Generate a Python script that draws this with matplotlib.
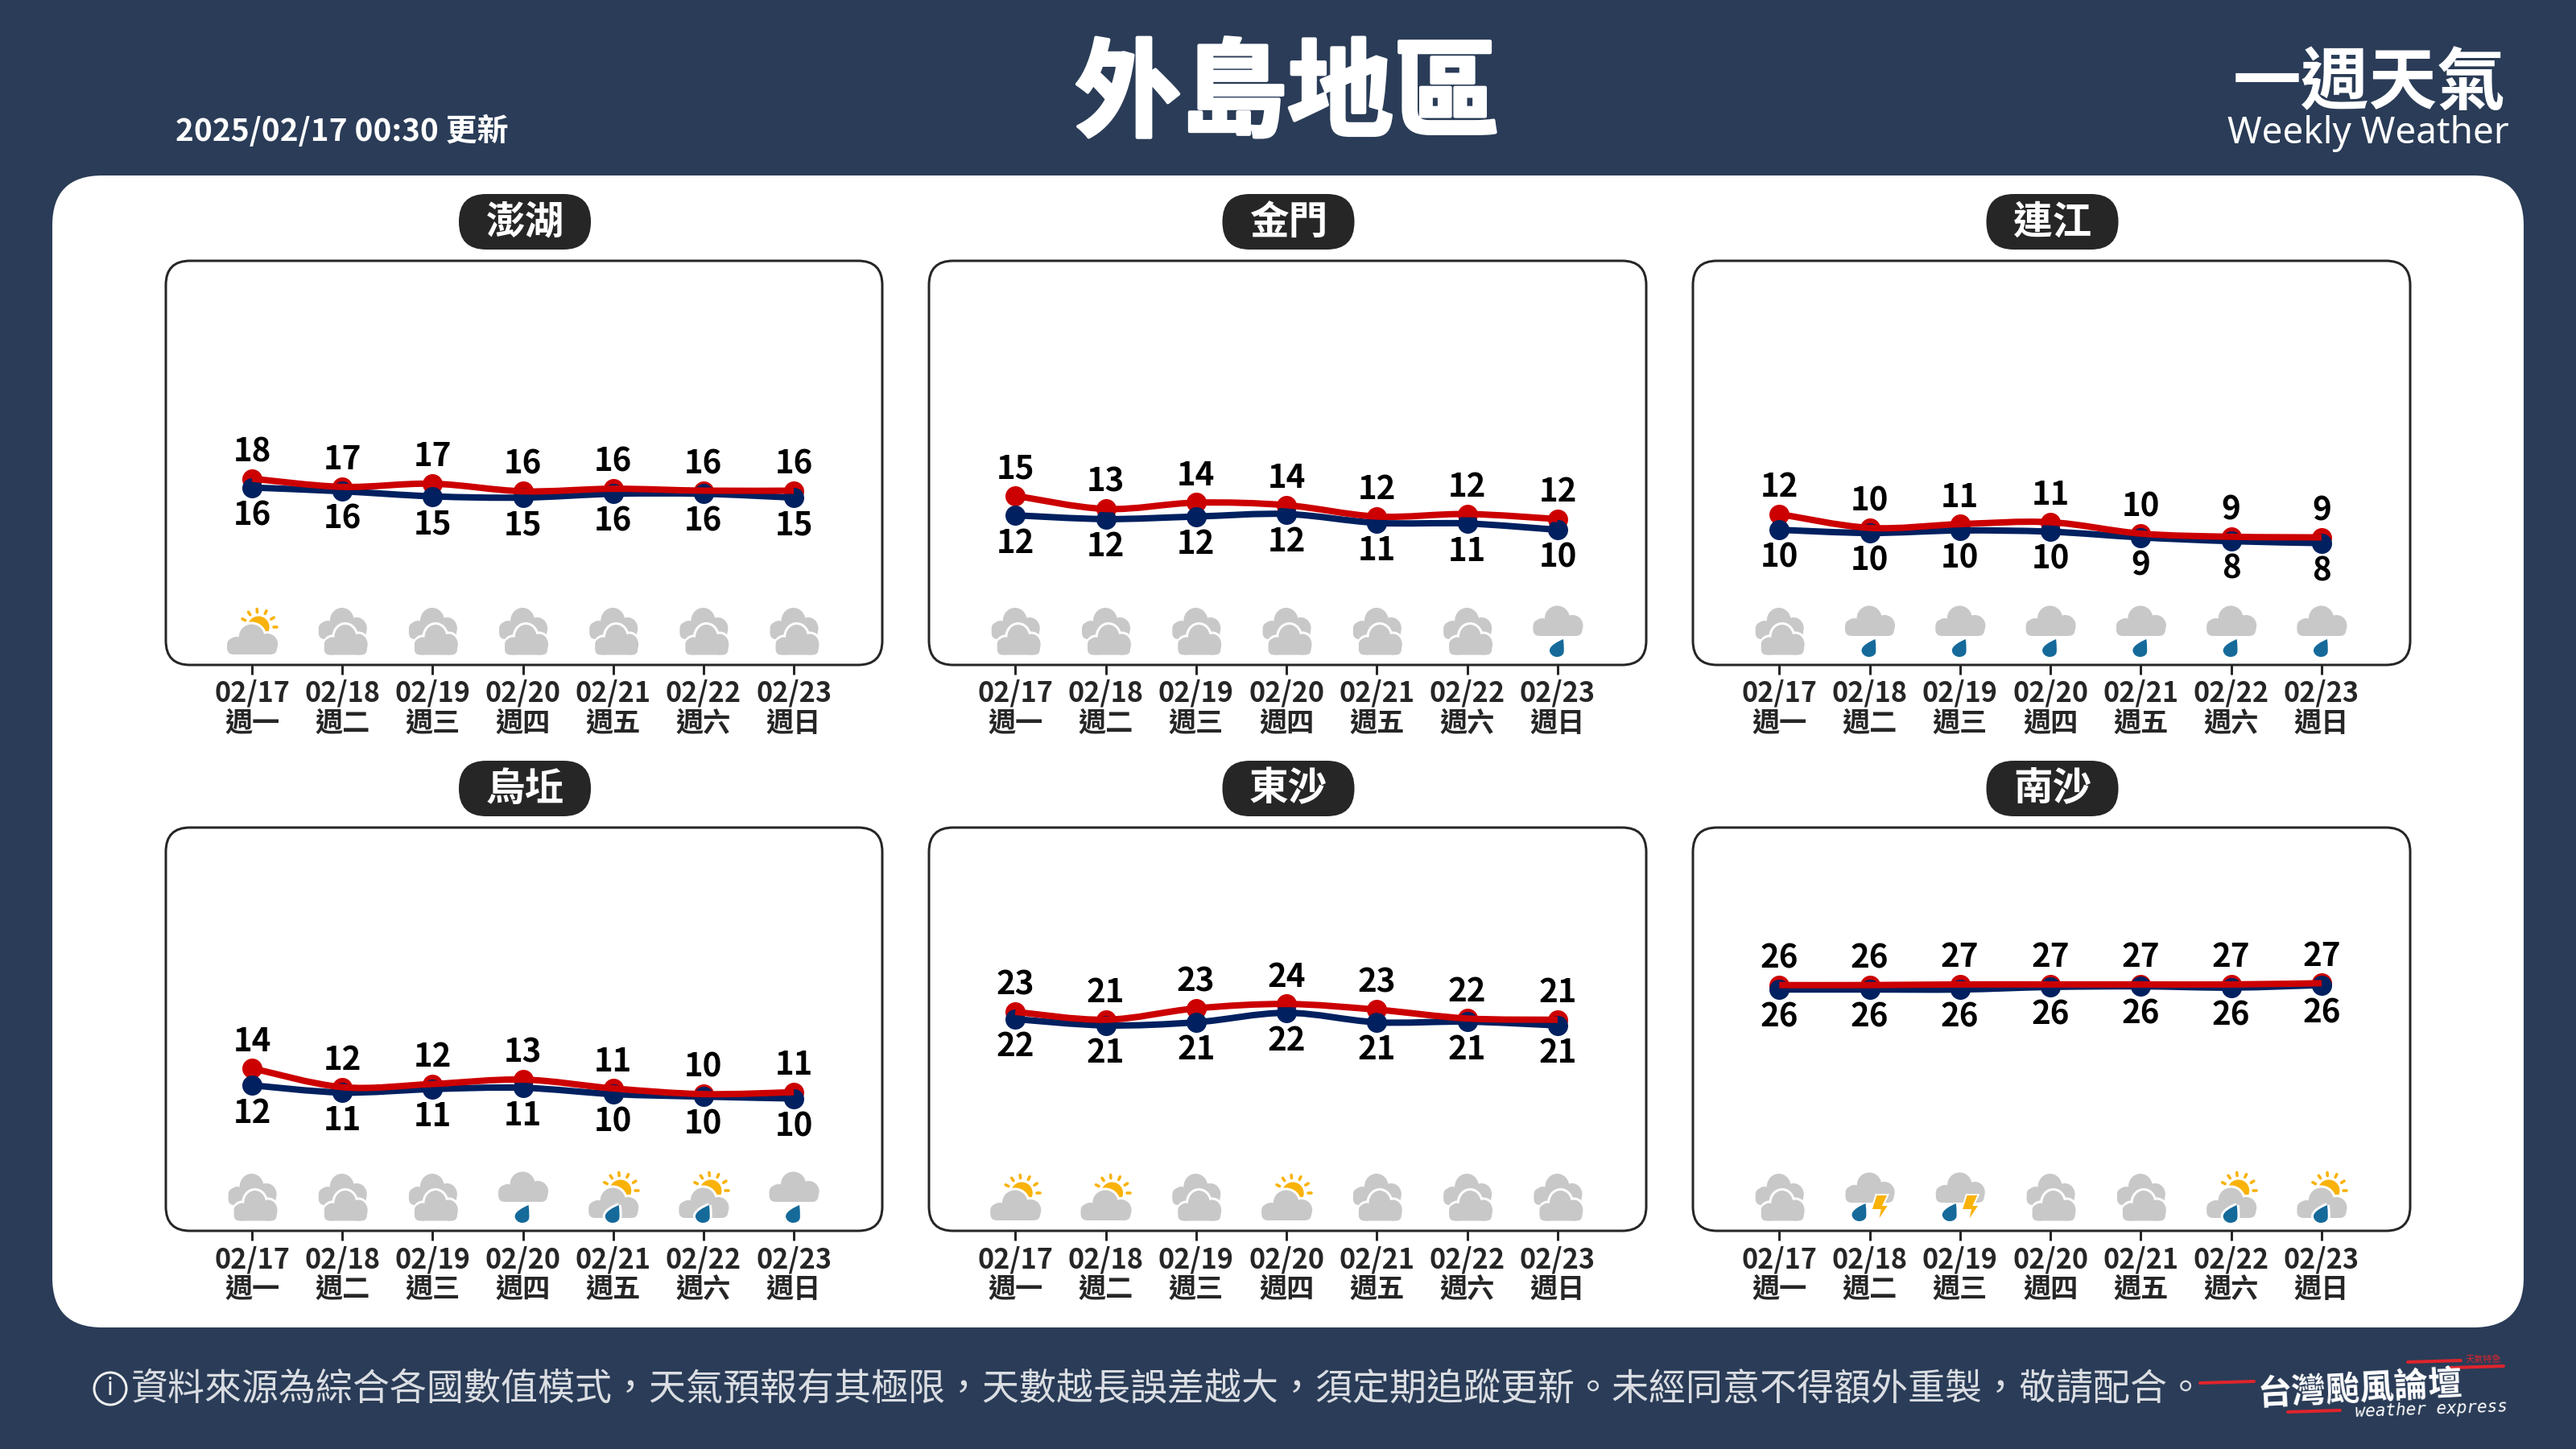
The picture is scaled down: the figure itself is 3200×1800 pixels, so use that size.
import matplotlib
matplotlib.use("Agg")
import matplotlib.pyplot as plt
import matplotlib.patheffects as pe
from matplotlib.patches import FancyBboxPatch, Circle, Ellipse, PathPatch, Polygon
from matplotlib.path import Path
import numpy as np

CJK = ['Noto Sans CJK TC', 'DejaVu Sans']
plt.rcParams['font.family'] = CJK

dates = ["02/17", "02/18", "02/19", "02/20", "02/21", "02/22", "02/23"]
weekdays = ["週一", "週二", "週三", "週四", "週五", "週六", "週日"]
regions = ["澎湖", "金門", "連江", "烏坵", "東沙", "南沙"]

penghu_high = [17.8, 16.5, 17.0, 15.8, 16.2, 15.9, 15.9]
penghu_low = [16.4, 15.8, 15.0, 14.8, 15.4, 15.4, 14.8]
penghu_high_lab = [18, 17, 17, 16, 16, 16, 16]
penghu_low_lab = [16, 16, 15, 15, 16, 16, 15]
kinmen_high = [15.1, 13.0, 14.0, 13.6, 11.8, 12.2, 11.4]
kinmen_low = [12.0, 11.4, 11.8, 12.2, 10.8, 10.7, 9.7]
kinmen_high_lab = [15, 13, 14, 14, 12, 12, 12]
kinmen_low_lab = [12, 12, 12, 12, 11, 11, 10]
matsu_high = [12.2, 10.0, 10.6, 10.9, 9.1, 8.6, 8.5]
matsu_low = [9.7, 9.2, 9.6, 9.4, 8.5, 7.9, 7.6]
matsu_high_lab = [12, 10, 11, 11, 10, 9, 9]
matsu_low_lab = [10, 10, 10, 10, 9, 8, 8]
wuqiu_high = [14.1, 11.1, 11.6, 12.3, 10.9, 10.0, 10.3]
wuqiu_low = [11.4, 10.25, 10.8, 11.0, 10.0, 9.6, 9.3]
wuqiu_high_lab = [14, 12, 12, 13, 11, 10, 11]
wuqiu_low_lab = [12, 11, 11, 11, 10, 10, 10]
dongsha_high = [23.05, 21.8, 23.6, 24.3, 23.4, 22.0, 21.8]
dongsha_low = [21.9, 20.9, 21.4, 22.9, 21.4, 21.5, 20.9]
dongsha_high_lab = [23, 21, 23, 24, 23, 22, 21]
dongsha_low_lab = [22, 21, 21, 22, 21, 21, 21]
nansha_high = [27.3, 27.3, 27.4, 27.4, 27.4, 27.4, 27.6]
nansha_low = [26.6, 26.6, 26.6, 27.0, 27.1, 26.9, 27.3]
nansha_high_lab = [26, 26, 27, 27, 27, 27, 27]
nansha_low_lab = [26, 26, 26, 26, 26, 26, 26]

penghu_icons = ["sun", "clouds", "clouds", "clouds", "clouds", "clouds", "clouds"]
kinmen_icons = ["clouds", "clouds", "clouds", "clouds", "clouds", "clouds", "rain"]
matsu_icons = ["clouds", "rain", "rain", "rain", "rain", "rain", "rain"]
wuqiu_icons = ["clouds", "clouds", "clouds", "rain", "sunrain", "sunrain", "rain"]
dongsha_icons = ["sun", "sun", "clouds", "sun", "clouds", "clouds", "clouds"]
nansha_icons = ["clouds", "storm", "storm", "clouds", "clouds", "sunrain", "sunrain"]

highs = [penghu_high, kinmen_high, matsu_high, wuqiu_high, dongsha_high, nansha_high]
lows = [penghu_low, kinmen_low, matsu_low, wuqiu_low, dongsha_low, nansha_low]
high_labs = [penghu_high_lab, kinmen_high_lab, matsu_high_lab, wuqiu_high_lab, dongsha_high_lab, nansha_high_lab]
low_labs = [penghu_low_lab, kinmen_low_lab, matsu_low_lab, wuqiu_low_lab, dongsha_low_lab, nansha_low_lab]
icons = [penghu_icons, kinmen_icons, matsu_icons, wuqiu_icons, dongsha_icons, nansha_icons]

BG = "#2A3C57"
DARK = "#262626"
RED = "#CC0000"
NAVY = "#002060"
GRAY = "#C8C8C8"
BLUE = "#156A9A"
GOLD = "#F9B208"

W, H = 3200, 1800
fig = plt.figure(figsize=(16, 9), dpi=200, facecolor=BG)
bgax = fig.add_axes([0, 0, 1, 1], zorder=0)
bgax.set_xlim(0, W); bgax.set_ylim(H, 0); bgax.axis("off")
deco = fig.add_axes([0, 0, 1, 1], zorder=5)
deco.set_xlim(0, W); deco.set_ylim(H, 0); deco.axis("off")
deco.patch.set_alpha(0)
PX = 72 / 200  # points per pixel


def rrect(ax, x0, y0, x1, y1, r, **kw):
    p = FancyBboxPatch((x0 + r, y0 + r), x1 - x0 - 2 * r, y1 - y0 - 2 * r,
                       boxstyle=f"round,pad={r},rounding_size={r}", **kw)
    ax.add_patch(p)
    return p


def cloud(cx, bottom, w, h=37.5, halo=False, z=3.0):
    s = w / 61.0
    sy = h / 37.5
    puffs = [(-19, 11, 11), (-0.5, 22, 15.5), (18.5, 13, 13)]
    if halo:
        for px, py, r in puffs:
            deco.add_patch(Ellipse((cx + px * s, bottom - py * sy), 2 * r * s + 6, 2 * r * sy + 6,
                                   fc="white", ec="none", zorder=z))
    z += 0.05
    for px, py, r in puffs:
        deco.add_patch(Ellipse((cx + px * s, bottom - py * sy), 2 * r * s, 2 * r * sy,
                               fc=GRAY, ec="none", zorder=z))
    rrect(deco, cx - 30.5 * s, bottom - 20 * sy, cx + 30.5 * s, bottom, 8 * s, fc=GRAY, ec="none", zorder=z)


def drop(cx, bottom, halo=False):
    # teardrop with its tip leaning to the upper right
    b = bottom
    verts = [(cx + 8, b - 22), (cx + 9, b - 12), (cx + 9, b - 9), (cx + 8.5, b - 5),
             (cx + 7, b - 1), (cx + 3, b), (cx, b), (cx - 5, b), (cx - 9, b - 4),
             (cx - 9, b - 8), (cx - 9, b - 14), (cx + 1, b - 19), (cx + 8, b - 22)]
    codes = [Path.MOVETO] + [Path.CURVE4] * 12
    ec, lw = ("white", 6 * PX) if halo else ("none", 0)
    deco.add_patch(PathPatch(Path(verts, codes), fc=BLUE, ec=ec, lw=lw, zorder=3.4))
    if halo:
        deco.add_patch(PathPatch(Path(verts, codes), fc=BLUE, ec="none", zorder=3.5))


def bolt(cx, bottom):
    pts = [(cx - 3, bottom - 34), (cx + 12, bottom - 34), (cx + 6, bottom - 21), (cx + 13, bottom - 21),
           (cx - 1, bottom), (cx + 2, bottom - 15), (cx - 9, bottom - 15)]
    deco.add_patch(Polygon(pts, closed=True, fc=GOLD, ec="white", lw=2 * PX, zorder=3.6))


def sun(cx, cy):
    deco.add_patch(Circle((cx, cy), 13.5, fc=GOLD, ec="none", zorder=2.8))
    for a in [153, 124, 95, 64, 32, 0]:
        t = np.deg2rad(a)
        deco.plot([cx + 18.5 * np.cos(t), cx + 22.5 * np.cos(t)],
                  [cy - 18.5 * np.sin(t), cy - 22.5 * np.sin(t)],
                  color=GOLD, lw=3.6 * PX, solid_capstyle="round", zorder=2.8)


def icon(kind, cx, B):
    if kind == "clouds":
        cloud(cx, B - 32, 59, h=39, z=3.0)
        cloud(cx + 4, B - 12.5, 53, h=37.5, halo=True, z=3.1)
    elif kind == "rain":
        cloud(cx, B - 36, 61)
        drop(cx - 1, B - 10)
    elif kind == "sun":
        sun(cx + 8, B - 47)
        cloud(cx, B - 13, 62, halo=True)
    elif kind == "sunrain":
        sun(cx + 9, B - 50)
        cloud(cx, B - 16, 61, halo=True)
        drop(cx - 1, B - 10, halo=True)
    elif kind == "storm":
        cloud(cx, B - 35, 60)
        drop(cx - 13, B - 12)
        bolt(cx + 11, B - 11)


def smooth_path(x, y):
    # Catmull-Rom curve through the data points, as cubic Bezier segments
    x = np.asarray(x, float); y = np.asarray(y, float)
    px = np.r_[x[0], x, x[-1]]; py = np.r_[y[0], y, y[-1]]
    verts = [(x[0], y[0])]
    codes = [Path.MOVETO]
    for i in range(1, len(x)):
        c1 = (px[i] + (px[i + 1] - px[i - 1]) / 6, py[i] + (py[i + 1] - py[i - 1]) / 6)
        c2 = (px[i + 1] - (px[i + 2] - px[i]) / 6, py[i + 1] - (py[i + 2] - py[i]) / 6)
        verts += [c1, c2, (x[i], y[i])]
        codes += [Path.CURVE4] * 3
    return Path(verts, codes)


# white card
rrect(bgax, 65, 218, 3135, 1649, 62, fc="white", ec="none")

col_x = [(206, 1096), (1154, 2045), (2103, 2994)]
row_y = [(324, 826), (1028, 1529)]

for k, name in enumerate(regions):
    x0, x1 = col_x[k % 3]
    y0, y1 = row_y[k // 3]
    rrect(bgax, x0, y0, x1, y1, 30, fc="white", ec=DARK, lw=3 * PX)
    ax = fig.add_axes([x0 / W, 1 - y1 / H, (x1 - x0) / W, (y1 - y0) / H], zorder=2)
    ax.patch.set_alpha(0)
    ax.set_xlim(-0.955, 6.98)
    ax.set_ylim(-11.7, 52.3)
    for s in ax.spines.values():
        s.set_visible(False)
    xs = np.arange(7)
    ax.set_yticks([])
    ax.set_xticks(xs)
    ax.set_xticklabels([f"{d}\n{w}" for d, w in zip(dates, weekdays)],
                       fontsize=12.3, fontweight="bold", color=DARK, linespacing=1.09, family=CJK)
    ax.tick_params(axis="x", length=12 * PX, width=3 * PX, color=DARK, pad=6 * PX)
    ax.scatter(xs, highs[k], s=(25 * PX) ** 2, color=RED, zorder=2, linewidths=0)
    ax.scatter(xs, lows[k], s=(25 * PX) ** 2, color=NAVY, zorder=3, linewidths=0)
    ax.add_patch(PathPatch(smooth_path(xs, lows[k]), fc="none", ec=NAVY, lw=8 * PX, zorder=4, capstyle="butt"))
    ax.add_patch(PathPatch(smooth_path(xs, highs[k]), fc="none", ec=RED, lw=8 * PX, zorder=5, capstyle="butt"))
    for i in xs:
        ax.annotate(str(high_labs[k][i]), (i, highs[k][i]), xytext=(0, 33 * PX), textcoords="offset points",
                    ha="center", va="center", fontsize=14.5, fontweight="bold", color="black", family=CJK)
        ax.annotate(str(low_labs[k][i]), (i, lows[k][i]), xytext=(0, -35 * PX), textcoords="offset points",
                    ha="center", va="center", fontsize=14.5, fontweight="bold", color="black", family=CJK)
        # icon placed from the axis' own x scale
        px_x = ax.transData.transform((i, 0))[0]
        icon(icons[k][i], px_x, y1)
    # region pill
    cx = (x0 + x1) / 2 + 1
    rrect(deco, cx - 82, y0 - 83, cx + 82, y0 - 14, 34, fc=DARK, ec="none", zorder=4)
    deco.text(cx, y0 - 48, name, color="white", fontsize=17.5, fontweight="bold", ha="center", va="center", zorder=5)

# header
deco.text(1599, 120, "外島地區", color="white", fontsize=47.5, fontweight="bold", ha="center", va="center",
          path_effects=[pe.withStroke(linewidth=1.5, foreground="white")])
deco.text(218, 163, "2025/02/17 00:30 更新", color="white", fontsize=14.0, fontweight="bold", ha="left", va="center")
deco.text(3113, 104, "一週天氣", color="white", fontsize=30.5, fontweight="bold", ha="right", va="center")
deco.text(3117, 166, "Weekly Weather", color="white", fontsize=16.5, ha="right", va="center", family="Noto Sans")

# footer
deco.add_patch(Circle((137, 1725), 20, fc="none", ec="#F0F0F0", lw=3 * PX))
deco.text(137, 1725, "i", color="#F0F0F0", fontsize=11, ha="center", va="center", family="Noto Sans")
deco.text(163, 1725, "資料來源為綜合各國數值模式，天氣預報有其極限，天數越長誤差越大，須定期追蹤更新。未經同意不得額外重製，敬請配合。",
          color="#DADDE2", fontsize=16.55, ha="left", va="center")

# logo
LOGO_RED = "#E0242C"
for xa, xb, ya, yb in [(2733, 2800, 1718, 1716), (2842, 2907, 1754, 1752),
                       (2991, 3057, 1692, 1690), (3044, 3110, 1699, 1697)]:
    deco.plot([xa, xb], [ya, yb], color=LOGO_RED, lw=4 * PX, solid_capstyle="round")
deco.text(2932, 1726, "台灣颱風論壇", color="white", fontsize=15.3, fontweight="bold", style="italic",
          rotation=3, rotation_mode="anchor", ha="center", va="center")
deco.text(3020, 1751, "weather express", color="white", fontsize=7.5, style="italic",
          rotation=2, rotation_mode="anchor", ha="center", va="center", family="DejaVu Sans Mono")
deco.text(3085, 1689, "天氣特急", color=LOGO_RED, fontsize=4, ha="center", va="center")

fig.savefig("out.png", dpi=200, facecolor=BG)
